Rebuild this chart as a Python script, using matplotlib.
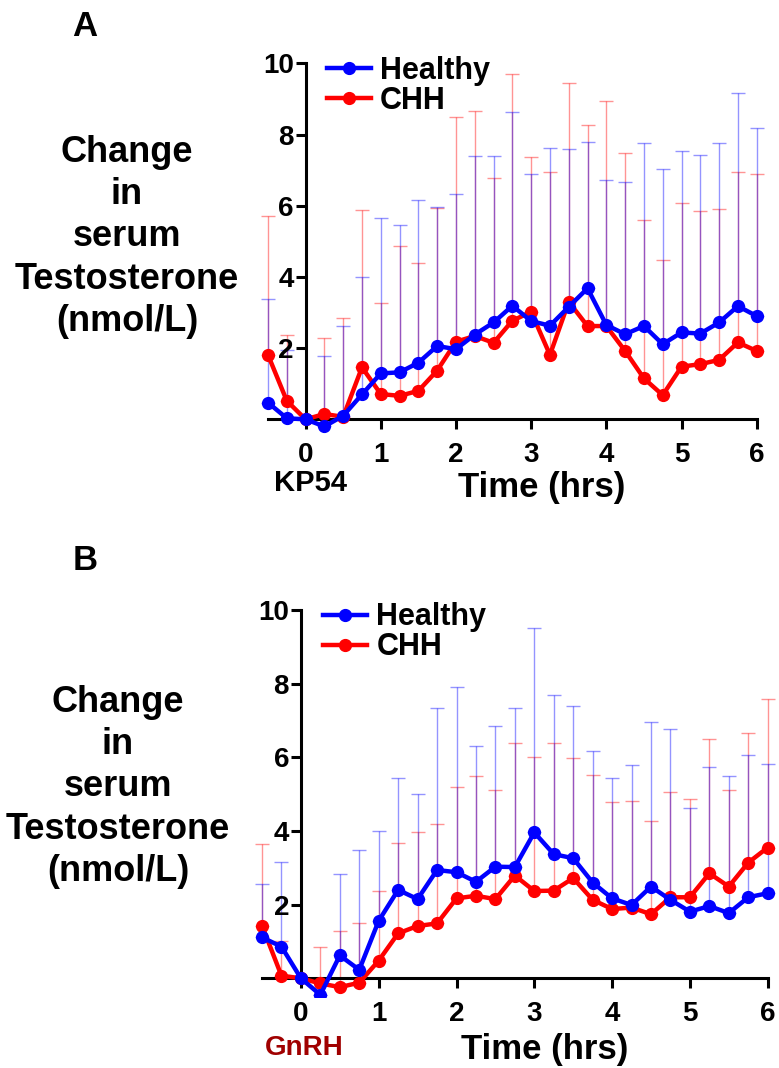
import matplotlib
matplotlib.use("Agg")
import matplotlib.pyplot as plt
import numpy as np

plt.rcParams["font.family"] = ["Liberation Sans", "DejaVu Sans"]
plt.rcParams["font.weight"] = "bold"

# sampling times (hrs) relative to the injection
times = [-0.5, -0.25, 0, 0.25, 0.5, 0.75, 1, 1.25, 1.5, 1.75, 2, 2.25, 2.5,
         2.75, 3, 3.25, 3.5, 3.75, 4, 4.25, 4.5, 4.75, 5, 5.25, 5.5, 5.75, 6]

# KP54 study: mean change and upper error
kp_healthy = [0.47, 0.03, 0, -0.2, 0.1, 0.7, 1.29, 1.32, 1.59, 2.06, 1.97, 2.38, 2.72,
              3.19, 2.76, 2.63, 3.16, 3.68, 2.65, 2.39, 2.62, 2.11, 2.44, 2.41, 2.72, 3.18, 2.90]
kp_healthy_err = [2.91, 1.92, 0, 1.98, 2.53, 3.29, 4.37, 4.14, 4.56, 3.91, 4.35, 5.03, 4.69,
                  5.43, 4.12, 5.00, 4.44, 4.10, 4.07, 4.27, 5.13, 4.91, 5.09, 5.01, 5.03, 5.99, 5.28]
kp_chh = [1.81, 0.52, 0, 0.15, 0.07, 1.46, 0.71, 0.66, 0.80, 1.37, 2.18, 2.34, 2.15,
          2.77, 3.02, 1.81, 3.30, 2.62, 2.62, 1.92, 1.15, 0.68, 1.48, 1.55, 1.67, 2.16, 1.92]
kp_chh_err = [3.91, 1.85, 0, 2.13, 2.79, 4.42, 2.55, 4.22, 3.58, 4.56, 6.30, 6.31, 4.64,
              6.94, 4.35, 5.13, 6.16, 5.64, 6.32, 5.56, 4.44, 3.80, 4.60, 4.29, 4.23, 4.79, 4.97]

# GnRH study
gn_healthy = [1.11, 0.86, 0, -0.45, 0.62, 0.23, 1.56, 2.40, 2.15, 2.94, 2.88, 2.62, 3.03,
              3.02, 3.96, 3.37, 3.26, 2.60, 2.17, 1.99, 2.49, 2.13, 1.81, 1.96, 1.77, 2.20, 2.31]
gn_healthy_err = [1.44, 2.29, 0, 0, 2.20, 3.25, 2.45, 3.03, 2.85, 4.41, 5.04, 3.70, 3.82,
                  4.33, 5.55, 4.33, 4.14, 3.58, 3.28, 3.79, 4.46, 4.64, 2.81, 3.79, 3.73, 3.85, 3.51]
gn_chh = [1.43, 0.07, 0, -0.14, -0.24, -0.12, 0.48, 1.22, 1.42, 1.49, 2.17, 2.24, 2.15,
          2.79, 2.37, 2.38, 2.72, 2.13, 1.88, 1.92, 1.74, 2.20, 2.20, 2.85, 2.49, 3.14, 3.55]
gn_chh_err = [2.21, 0.94, 0, 1.00, 1.53, 1.61, 1.89, 2.45, 2.54, 2.69, 3.02, 3.26, 2.95,
              3.60, 3.65, 4.02, 3.27, 3.39, 2.92, 2.90, 2.52, 2.85, 2.66, 3.64, 2.61, 3.53, 4.04]

xticks = [0, 1, 2, 3, 4, 5, 6]
yticks = [2, 4, 6, 8, 10]
ylabel = "Change\nin\nserum\nTestosterone\n(nmol/L)"

BLUE = "#0000ff"
RED = "#ff0000"
W, H = 779, 1068
XMIN, XMAX = -0.65, 6.15


def px(x, y):
    # pixel (from top-left) -> figure fraction
    return x / W, 1 - y / H


def axes_rect(x0, x6, y10, ymin_px):
    # place axes so that time -0.5 / 6 land on x0 / x6 pixels
    per = (x6 - x0) / 6.5
    left = x0 - (-0.5 - XMIN) * per
    right = x6 + (XMAX - 6) * per
    return [left / W, 1 - ymin_px / H, (right - left) / W, (ymin_px - y10) / H]


def draw_panel(ax, healthy, healthy_err, chh, chh_err, ymin):
    t = np.array(times)
    for mean, err, col in [(chh, chh_err, RED), (healthy, healthy_err, BLUE)]:
        ax.errorbar(t, mean, yerr=[np.zeros(len(err)), err], fmt="none",
                    ecolor=col, alpha=0.42, elinewidth=1.0, capsize=5, capthick=1.0,
                    zorder=1)
    ax.plot(t, chh, color=RED, lw=3.2, marker="o", ms=8.5, label="CHH", zorder=3)
    ax.plot(t, healthy, color=BLUE, lw=3.2, marker="o", ms=8.5, label="Healthy", zorder=4)

    ax.set_xlim(XMIN, XMAX)
    ax.set_ylim(ymin, 10)
    for s in ["top", "right"]:
        ax.spines[s].set_visible(False)
    ax.spines["left"].set_position(("data", 0))
    ax.spines["bottom"].set_position(("data", 0))
    ax.spines["left"].set_bounds(0, 10)
    ax.spines["bottom"].set_bounds(-0.5, 6)
    for s in ["left", "bottom"]:
        ax.spines[s].set_linewidth(2.2)
        ax.spines[s].set_zorder(2)
    ax.set_xticks(xticks)
    ax.set_yticks(yticks)
    ax.tick_params(width=2.2, length=7.5, labelsize=20)
    ax.tick_params(axis="x", pad=9)
    ax.tick_params(axis="y", pad=1)
    for lab in ax.get_xticklabels() + ax.get_yticklabels():
        lab.set_fontweight("bold")

    h, l = ax.get_legend_handles_labels()
    ax.legend(h[::-1], l[::-1], loc="upper left", bbox_to_anchor=(0.137, 1.02),
              frameon=False, fontsize=22, handlelength=1.45, handletextpad=0.3,
              labelspacing=0.0, borderpad=0, borderaxespad=0)


fig = plt.figure(figsize=(W / 100, H / 100), dpi=100)

# panel A: time -0.5 -> 268 px, 6 -> 757 px; y 10 -> 63 px, -0.6 -> 441 px
axA = fig.add_axes(axes_rect(268, 756.7, 63.3, 440.7))
draw_panel(axA, kp_healthy, kp_healthy_err, kp_chh, kp_chh_err, -0.6)

# panel B: time -0.5 -> 262 px, 6 -> 768 px; y 10 -> 610 px, -0.5 -> 997 px
axB = fig.add_axes(axes_rect(262, 767.7, 610, 996.7))
draw_panel(axB, gn_healthy, gn_healthy_err, gn_chh, gn_chh_err, -0.5)

# panel letters and y titles
fig.text(*px(85, 26), "A", fontsize=25, ha="center", va="center")
fig.text(*px(85, 560), "B", fontsize=25, ha="center", va="center")
fig.text(*px(127, 237), ylabel, fontsize=26, ha="center", va="center",
         multialignment="center", linespacing=1.27)
fig.text(*px(118, 787), ylabel, fontsize=26, ha="center", va="center",
         multialignment="center", linespacing=1.27)

# injection labels and time axis titles
fig.text(*px(310, 491), "KP54", fontsize=21, ha="center", va="baseline")
fig.text(*px(304, 1055), "GnRH", fontsize=20, ha="center", va="baseline", color="#a00000")
fig.text(*px(542, 497), "Time (hrs)", fontsize=25, ha="center", va="baseline")
fig.text(*px(545, 1059), "Time (hrs)", fontsize=25, ha="center", va="baseline")

fig.savefig("out.png", dpi=100)
